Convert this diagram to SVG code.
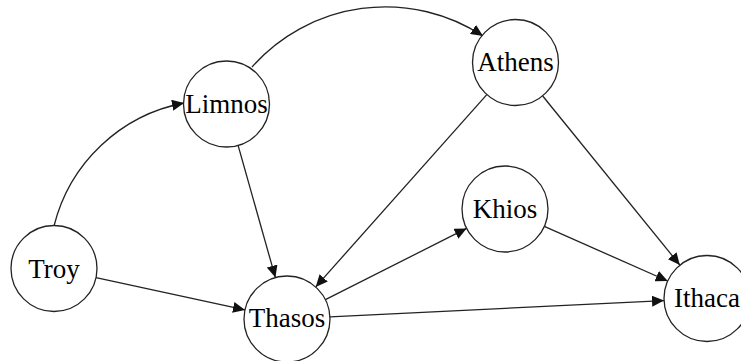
<svg xmlns="http://www.w3.org/2000/svg" width="741" height="361" viewBox="0 0 741 361">
<defs>
<marker id="arrow" markerUnits="userSpaceOnUse" markerWidth="12" markerHeight="11" refX="12" refY="5.5" orient="auto">
<path d="M0,0 L12,5.5 L0,11 z" fill="#111"/>
</marker>
<style>
.node circle{fill:#fff;stroke:#222;stroke-width:1.3}
.node text{font-size:27px;fill:#000;text-anchor:middle}
.edge{fill:none;stroke:#222;stroke-width:1.3;marker-end:url(#arrow)}
</style>
</defs>
<rect width="741" height="361" fill="#fff"/>
<g id="connectors">
<path class="edge" d="M54,226 A166,166 0 0,1 184,103"/>
<path class="edge" d="M252,67 A178,178 0 0,1 483,36"/>
<path class="edge" d="M96,277.6 L245,309.9"/>
<path class="edge" d="M238.1,145.4 L275.4,277.6"/>
<path class="edge" d="M486.8,94.6 L315.7,286.9"/>
<path class="edge" d="M542.7,96 L679.8,265"/>
<path class="edge" d="M325.4,299.6 L466.6,228.4"/>
<path class="edge" d="M544.3,226.4 L667.7,281"/>
<path class="edge" d="M330,316.9 L664,300.6"/>
</g>
<g font-family="'Liberation Serif', 'DejaVu Serif', serif">
<g id="node-troy" class="node"><circle cx="54" cy="268.5" r="43"/><text x="54" y="277.5">Troy</text></g>
<g id="node-limnos" class="node"><circle cx="226.5" cy="104" r="43"/><text x="226.5" y="113">Limnos</text></g>
<g id="node-athens" class="node"><circle cx="515.5" cy="62.5" r="43"/><text x="515.5" y="71">Athens</text></g>
<g id="node-khios" class="node"><circle cx="505" cy="209" r="43"/><text x="505" y="218">Khios</text></g>
<g id="node-thasos" class="node"><circle cx="287" cy="319" r="43"/><text x="287" y="327">Thasos</text></g>
<g id="node-ithaca" class="node"><circle cx="707" cy="298.5" r="43"/><text x="707" y="307">Ithaca</text></g>
</g>
</svg>
